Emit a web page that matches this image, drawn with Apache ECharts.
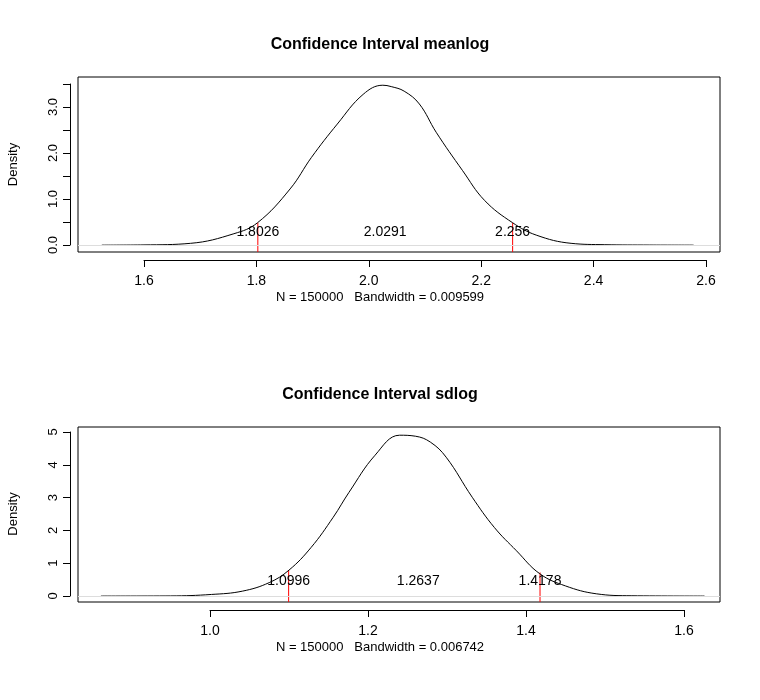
<!DOCTYPE html>
<html><head><meta charset="utf-8">
<script src="https://cdn.jsdelivr.net/npm/echarts@6/dist/echarts.min.js"></script>
<style>body{margin:0}#c{width:760px;height:700px}</style></head>
<body><div id="c"></div>
<script>
var meanX=[1.525,1.6,1.683,1.76,1.802,1.86,1.898,1.944,1.99,2.025,2.04,2.063,2.09,2.12,2.167,2.206,2.256,2.298,2.36,2.42,2.5,2.578];
var meanY=[0,0.005,0.04,0.25,0.49,1.23,1.92,2.65,3.3,3.5,3.47,3.37,3.09,2.47,1.63,0.98,0.49,0.22,0.04,0.01,0.002,0];
var sdX=[0.862,0.95,1.002,1.041,1.075,1.1,1.128,1.156,1.176,1.209,1.24,1.26,1.279,1.299,1.332,1.36,1.388,1.4175,1.45,1.489,1.534,1.626];
var sdY=[0,0.005,0.05,0.15,0.41,0.79,1.48,2.4,3.16,4.29,4.9,4.87,4.69,4.23,3.01,2.09,1.38,0.68,0.31,0.07,0.01,0];
var meanCI=[1.8026,2.0291,2.256], meanCIlab=['1.8026','2.0291','2.256'], meanCIh=[0.49,null,0.49];
var sdCI=[1.0996,1.2637,1.4178], sdCIlab=['1.0996','1.2637','1.4178'], sdCIh=[0.79,null,0.72];
var titles=['Confidence Interval meanlog','Confidence Interval sdlog'];
var subs=['N = 150000   Bandwidth = 0.009599','N = 150000   Bandwidth = 0.006742'];

var F='Liberation Sans, Arial, sans-serif';
function zip(a,b){return a.map(function(v,i){return [v,b[i]];});}
var grids=[],xA=[],yA=[],S=[];
function panel(top,xmin,xmax,ymin,ymax,axL,axW,xi,xmn,xmx,yTop,yH,yi,ymx,labFn,X,Y,ci,cil,cih,labY){
  var g=grids.length;
  grids.push({left:78,width:642,top:top,height:175,show:true,borderColor:'#000',borderWidth:1});
  xA.push({gridIndex:g,type:'value',min:xmin,max:xmax,show:false});
  yA.push({gridIndex:g,type:'value',min:ymin,max:ymax,show:false});
  grids.push({left:axL,width:axW,top:top+182,height:1});
  xA.push({gridIndex:g+1,type:'value',min:xmn,max:xmx,interval:xi,splitLine:{show:false},
    axisLine:{lineStyle:{color:'#000'}},axisTick:{length:7,lineStyle:{color:'#000'}},
    axisLabel:{color:'#000',fontFamily:F,fontSize:14,margin:14,formatter:function(v){return v.toFixed(1);}}});
  yA.push({gridIndex:g+1,type:'value',show:false});
  grids.push({left:70,width:1,top:yTop,height:yH});
  xA.push({gridIndex:g+2,type:'value',show:false});
  yA.push({gridIndex:g+2,type:'value',min:0,max:ymx,interval:yi,splitLine:{show:false},
    axisLine:{show:true,lineStyle:{color:'#000'}},axisTick:{show:true,length:7,lineStyle:{color:'#000'}},
    axisLabel:{color:'#000',fontFamily:F,fontSize:13,rotate:90,margin:10,formatter:labFn},
    name:'Density',nameLocation:'middle',nameGap:50,nameRotate:90,nameTextStyle:{color:'#000',fontFamily:F,fontSize:13}});
  S.push({type:'line',xAxisIndex:g,yAxisIndex:g,data:zip(X,Y),smooth:0.4,symbol:'none',lineStyle:{color:'#000',width:1},
    markLine:{silent:true,symbol:'none',label:{show:false},lineStyle:{color:'#ddd',type:'solid',width:1},data:[{yAxis:0}]},z:3});
  ci.forEach(function(c,i){
    if(cih[i]!=null) S.push({type:'line',xAxisIndex:g,yAxisIndex:g,data:[[c,ymin],[c,cih[i]]],symbol:'none',lineStyle:{color:'#f00',width:1},z:2});
  });
  S.push({type:'scatter',xAxisIndex:g,yAxisIndex:g,symbolSize:1,itemStyle:{opacity:0},
    data:ci.map(function(c){return [c,labY];}),
    label:{show:true,position:'inside',color:'#000',opacity:1,fontFamily:F,fontSize:14,formatter:function(p){return cil[p.dataIndex];}},z:4});
}
panel(77,1.4826,2.625,-0.15,3.68,144,562,0.2,1.6,2.6,84,161,0.5,3.5,function(v){return Math.abs(v-Math.round(v))<1e-6?v.toFixed(1):'';},meanX,meanY,meanCI,meanCIlab,meanCIh,0.28);
panel(427,0.833,1.6456,-0.18,5.15,210,474,0.2,1.0,1.6,432,164,1,5,function(v){return String(v);},sdX,sdY,sdCI,sdCIlab,sdCIh,0.45);

var chart=echarts.init(document.getElementById('c'));
chart.setOption({animation:false,backgroundColor:'#fff',
  title:[
    {text:titles[0],left:'center',top:32,textStyle:{fontFamily:F,fontSize:16,fontWeight:'bold',color:'#000'}},
    {text:titles[1],left:'center',top:382,textStyle:{fontFamily:F,fontSize:16,fontWeight:'bold',color:'#000'}},
    {text:subs[0],left:'center',top:286,textStyle:{fontFamily:F,fontSize:13,fontWeight:'normal',color:'#000'}},
    {text:subs[1],left:'center',top:636,textStyle:{fontFamily:F,fontSize:13,fontWeight:'normal',color:'#000'}}],
  grid:grids,xAxis:xA,yAxis:yA,series:S});
</script></body></html>
